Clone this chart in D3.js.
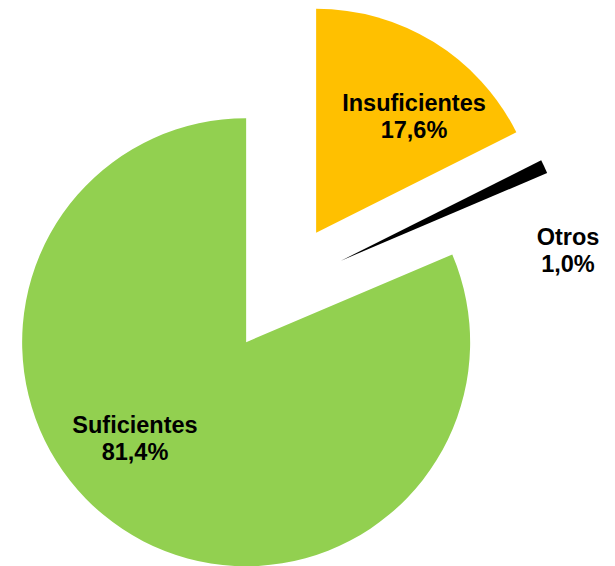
<!DOCTYPE html>
<html>
<head>
<meta charset="utf-8">
<script src="https://cdn.jsdelivr.net/npm/d3@7"></script>
<style>
  html, body { margin: 0; padding: 0; background: #fff; }
  svg { display: block; }
  .lbl { font-family: "Liberation Sans", Arial, sans-serif; font-weight: bold; font-size: 23.5px; fill: #000; }
</style>
</head>
<body>
<svg width="615" height="566"></svg>
<script>
'use strict';

// datos del grafico
var categorias = ["Insuficientes", "Otros", "Suficientes"];
var valores = [17.6, 1.0, 81.4];
var etiquetas = ["17,6%", "1,0%", "81,4%"];
var colores = ["#FFC000", "#000000", "#92D050"];

// posicion de las etiquetas (centro del bloque de texto)
var posEtiquetas = [[414, 111], [568, 245], [135, 433]];

var svg = d3.select("svg"),
  cx = 282, cy = 288,
  radio = 224,
  explosion = 65;

var pie = d3.pie().sort(null).value(function (d) { return d; });
var arco = d3.arc().innerRadius(0).outerRadius(radio);

var g = svg.append("g")
  .attr("transform", "translate(" + cx + "," + cy + ")");

g.selectAll(".slice")
  .data(pie(valores))
  .enter().append("path")
  .attr("class", "slice")
  .attr("fill", function (d, i) { return colores[i]; })
  .attr("transform", function (d) {
    var a = (d.startAngle + d.endAngle) / 2;
    return "translate(" + (Math.sin(a) * explosion) + "," + (-Math.cos(a) * explosion) + ")";
  })
  .attr("d", arco);

var t = svg.selectAll(".lbl")
  .data(categorias)
  .enter().append("text")
  .attr("class", "lbl")
  .attr("text-anchor", "middle")
  .attr("x", function (d, i) { return posEtiquetas[i][0]; })
  .attr("y", function (d, i) { return posEtiquetas[i][1]; });

t.append("tspan")
  .attr("x", function (d, i) { return posEtiquetas[i][0]; })
  .text(function (d) { return d; });
t.append("tspan")
  .attr("x", function (d, i) { return posEtiquetas[i][0]; })
  .attr("dy", 27)
  .text(function (d, i) { return etiquetas[i]; });
</script>
</body>
</html>
